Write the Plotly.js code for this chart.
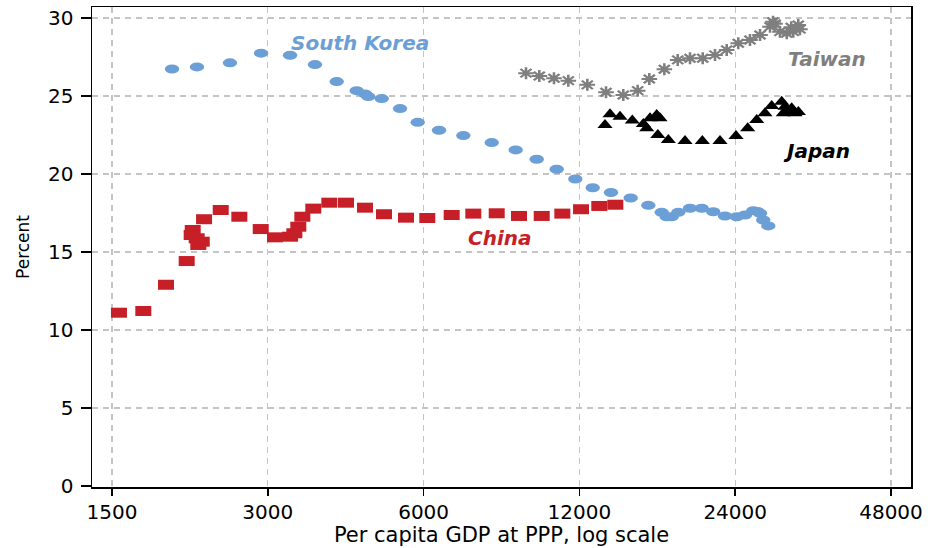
<!DOCTYPE html>
<html>
<head>
<meta charset="utf-8">
<script src="https://cdn.plot.ly/plotly-3.0.1.min.js"></script>
<style>
  html, body { margin: 0; padding: 0; background: #fff; }
  #chart { width: 928px; height: 548px; }
</style>
</head>
<body>
<div id="chart"></div>
<script>
// Per capita GDP at PPP (log scale) against percent share, by economy

const chinaGdp = [1547, 1724, 1907, 2091, 2148, 2138, 2186, 2236, 2202, 2259, 2433, 2643, 2907, 3097,
  3312, 3376, 3436, 3498, 3673, 3944, 4248, 4623, 5031, 5548, 6099, 6798, 7484, 8306, 9172, 10147,
  11121, 12087, 13110, 14080];
const chinaPct = [11.11, 11.22, 12.90, 14.42, 16.41, 16.09, 15.88, 15.66, 15.45, 17.10, 17.69, 17.26, 16.47, 15.94,
  15.98, 16.20, 16.62, 17.26, 17.78, 18.16, 18.16, 17.84, 17.42, 17.20, 17.18, 17.37, 17.46, 17.48, 17.31, 17.31,
  17.46, 17.74, 17.95, 18.03];

const koreaGdp = [1959, 2189, 2535, 2911, 3312, 3700, 4076, 4455, 4623, 4692, 4980, 5403, 5844, 6426,
  7160, 8124, 9038, 9924, 10846, 11784, 12732, 13812, 15075, 16305, 17307, 17697, 18092, 18633, 19630,
  20680, 21768, 22935, 24160, 25065, 26010, 26500, 26800, 27190, 27810];
const koreaPct = [26.73, 26.86, 27.12, 27.74, 27.61, 27.01, 25.92, 25.34, 25.13, 24.96, 24.83, 24.19, 23.31, 22.80,
  22.46, 22.01, 21.54, 20.94, 20.30, 19.68, 19.12, 18.81, 18.46, 17.99, 17.54, 17.26, 17.26, 17.54, 17.80,
  17.80, 17.58, 17.31, 17.26, 17.37, 17.65, 17.60, 17.48, 17.05, 16.67];

const japanGdp = [13448, 13750, 14376, 15185, 15949, 16190, 16430, 16925, 17175, 17010, 17823, 19197, 20735,
  22430, 24085, 25370, 26410, 27400, 28230, 29515, 29950, 30395, 29725, 30855, 31315, 31790];
const japanPct = [23.14, 23.83, 23.67, 23.42, 23.21, 22.93, 23.57, 23.78, 23.57, 22.50, 22.18, 22.12, 22.12,
  22.12, 22.44, 22.93, 23.46, 23.89, 24.36, 24.63, 24.31, 23.99, 23.89, 24.21, 23.89, 23.97];

const taiwanGdp = [9462, 10040, 10717, 11423, 12430, 13508, 14588, 15551, 16378, 17510, 18585, 19630, 20770,
  21935, 23110, 24330, 25630, 26800, 28020, 28650, 29290, 30185, 31080, 31775, 32015, 28400, 30800];
const taiwanPct = [26.46, 26.28, 26.13, 25.98, 25.71, 25.24, 25.06, 25.34, 26.09, 26.71, 27.31, 27.42, 27.42,
  27.63, 27.95, 28.38, 28.59, 28.91, 29.44, 29.62, 29.12, 29.02, 29.12, 29.55, 29.28, 29.75, 29.40];

const xTickVals = [1500, 3000, 6000, 12000, 24000, 48000];
const xTickText = ['1500', '3000', '6000', '12000', '24000', '48000'];
const yTickVals = [0, 5, 10, 15, 20, 25, 30];

const seriesNames = ['China', 'South Korea', 'Japan', 'Taiwan'];

// marker look for each series; stretchX widens the glyph horizontally
const seriesStyle = {
  'China':       { color: '#c71f28', symbol: 'square',        size: 10, stretchX: 1.6 },
  'South Korea': { color: '#6b9fd5', symbol: 'circle',        size: 9,  stretchX: 1.6 },
  'Japan':       { color: '#000000', symbol: 'triangle-up',   size: 12, stretchX: 1.1 },
  'Taiwan':      { color: '#7f7f7f', symbol: 'asterisk-open', size: 10, stretchX: 1.3 }
};

const seriesData = {
  'China': [chinaGdp, chinaPct],
  'South Korea': [koreaGdp, koreaPct],
  'Japan': [japanGdp, japanPct],
  'Taiwan': [taiwanGdp, taiwanPct]
};

const traces = seriesNames.map(name => {
  const st = seriesStyle[name];
  const marker = { symbol: st.symbol, size: st.size, color: st.color };
  if (st.symbol === 'asterisk-open') {
    marker.line = { color: st.color, width: 2 };
  } else {
    marker.line = { width: 0 };
  }
  return {
    type: 'scatter', mode: 'markers', name: name,
    x: seriesData[name][0], y: seriesData[name][1],
    marker: marker, hoverinfo: 'x+y+name'
  };
});

const tickFont = { family: 'DejaVu Sans, Liberation Sans, sans-serif', size: 20, color: '#000' };
const labelFont = (c) => ({ family: 'DejaVu Sans, Liberation Sans, sans-serif', size: 20, color: c, weight: 'bold', style: 'italic' });

const layout = {
  width: 928, height: 548,
  margin: { l: 92, r: 17, t: 7, b: 61 },
  paper_bgcolor: '#ffffff', plot_bgcolor: '#ffffff',
  showlegend: false,
  xaxis: {
    type: 'log',
    range: [3.1374, 4.7199],
    tickvals: xTickVals, ticktext: xTickText,
    ticks: 'outside', ticklen: 7, tickwidth: 1.5, tickcolor: '#000',
    ticklabelstandoff: -1,
    tickfont: tickFont,
    showline: true, linecolor: '#000', linewidth: 1.5, mirror: true,
    showgrid: true, gridcolor: '#c4c4c4', gridwidth: 1.2, griddash: '6px,5px',
    zeroline: false,
    title: { text: 'Per capita GDP at PPP, log scale', font: { family: 'DejaVu Sans, Liberation Sans, sans-serif', size: 21, color: '#000' }, standoff: 3 }
  },
  yaxis: {
    range: [-0.06, 30.7],
    tickvals: yTickVals,
    ticks: 'outside', ticklen: 10, tickwidth: 1.5, tickcolor: '#000',
    ticklabelstandoff: 3,
    tickfont: tickFont,
    showline: true, linecolor: '#000', linewidth: 1.5, mirror: true,
    showgrid: true, gridcolor: '#c4c4c4', gridwidth: 1.2, griddash: '6px,5px',
    zeroline: false,
    title: { text: 'Percent', font: { family: 'DejaVu Sans, Liberation Sans, sans-serif', size: 17, color: '#000' }, standoff: 14 }
  },
  annotations: [
    { x: Math.log10(4521), y: 28.4, text: 'South Korea', showarrow: false, font: labelFont('#6b9fd5') },
    { x: Math.log10(8430), y: 15.9, text: 'China', showarrow: false, font: labelFont('#c71f28') },
    { x: Math.log10(36030), y: 27.37, text: 'Taiwan', showarrow: false, font: labelFont('#7f7f7f') },
    { x: Math.log10(34460), y: 21.47, text: 'Japan', showarrow: false, font: labelFont('#000000') }
  ]
};

const gd = document.getElementById('chart');
Plotly.newPlot(gd, traces, layout, { displayModeBar: false, staticPlot: true }).then(() => {
  // widen each marker glyph around its own centre
  const groups = gd.querySelectorAll('.scatterlayer .trace');
  groups.forEach((g, i) => {
    const sx = seriesStyle[seriesNames[i]].stretchX;
    g.querySelectorAll('path.point').forEach(p => {
      const t = p.getAttribute('transform') || '';
      p.setAttribute('transform', t + ' scale(' + sx + ',1)');
    });
  });
});
</script>
</body>
</html>
